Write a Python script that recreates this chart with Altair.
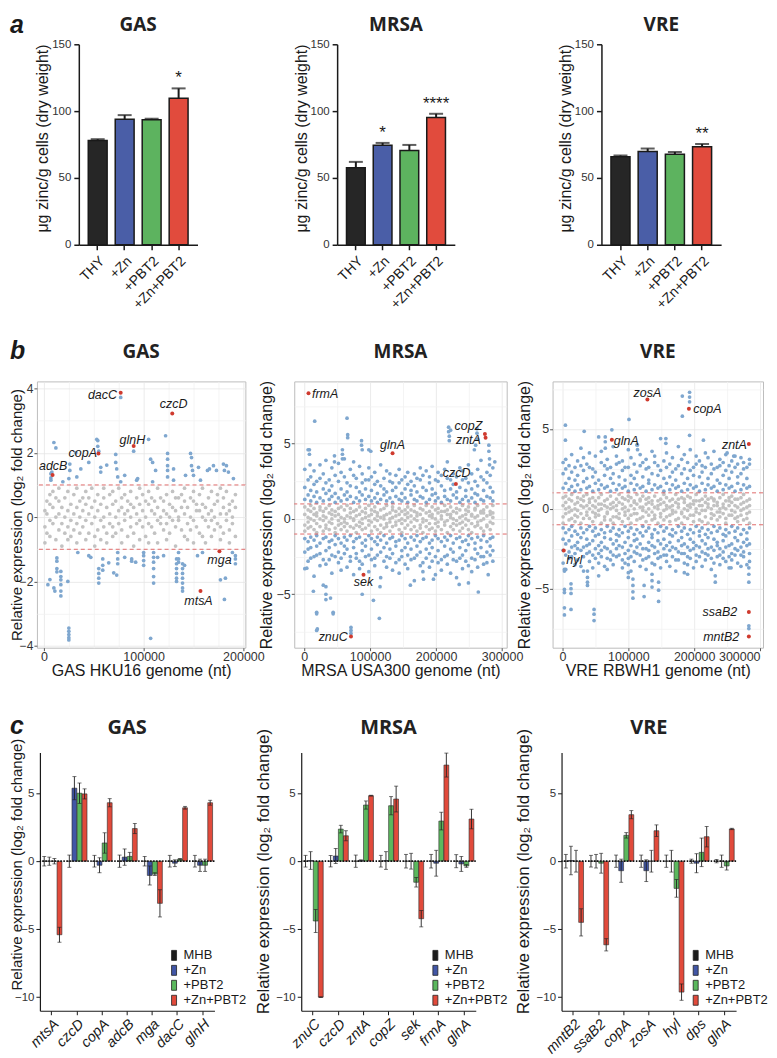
import altair as alt
import pandas as pd

FONT = "Liberation Sans"
HEAD = "Open Sans"
INK = "#1a1a1a"
GREY_PT = "#c2c2c2"
BLUE_PT = "#7fa7cf"
RED_PT = "#cf3a2e"
YT = "Relative expression (log\u2082 fold change)"

# ---------------- a: zinc content ----------------
A_COND = ["THY", "+Zn", "+PBT2", "+Zn+PBT2"]
A_FILL = ["#262626", "#4a5ea7", "#5db35f", "#e14b3d"]
A_GAS = [78, 94, 93.5, 109.7]
A_GAS_TOP = [79, 97, 94.3, 117]
A_GAS_SIG = ["", "", "", "*"]
A_MRSA = [57.6, 74.4, 70.5, 95.3]
A_MRSA_TOP = [62, 76.2, 74.7, 98]
A_MRSA_SIG = ["", "*", "", "****"]
A_VRE = [65.9, 69.7, 67.7, 73.4]
A_VRE_TOP = [66.8, 72, 69.4, 75.4]
A_VRE_SIG = ["", "", "", "**"]
A_YTICKS = [0, 50, 100, 150]

# ---------------- b: genome-wide expression (x in kb) ----------------
GAS_COLS = [1, 3, 6, 9, 12, 15, 18, 21, 24, 27, 30, 33, 36, 39, 42, 45, 48, 51, 54, 57, 60, 63, 66, 69, 72,
            75, 78, 81, 84, 87, 90, 93, 96, 99, 102, 105, 108, 111, 114, 117, 120, 123, 126, 129, 132, 135,
            138, 141, 144, 147, 150, 153, 156, 159, 162, 165, 168, 171, 174, 177, 180, 183, 186, 189, 192]
GAS_GRAY = [[0.2, -0.3, -0.8], [0.1, 0.5, -0.5], [-0.1, 0.4, 0.7, -0.6], [0.3, -0.2, 0.8], [0.0, -0.7, 0.6],
            [0.5, -0.4, 0.1, 0.9], [-0.2, 0.3, -0.9], [0.6, 0.0, -0.5], [0.2, -0.3, 0.8, -0.7], [-0.1, 0.4, -0.6],
            [0.7, 0.1, -0.4], [0.3, -0.2, -0.8, 0.9], [0.0, 0.5, -0.5], [-0.3, 0.2, 0.6], [0.4, -0.1, -0.7, 0.8],
            [0.1, -0.5, 0.6], [-0.2, 0.3, 0.9], [0.5, 0.0, -0.6, -0.9], [0.2, -0.4, 0.7], [-0.1, 0.4, -0.7],
            [0.6, 0.0, -0.3, 0.9], [0.3, -0.5, -0.8], [-0.2, 0.1, 0.7], [0.4, -0.3, 0.8, -0.6], [0.0, 0.5, -0.5],
            [0.2, -0.2, 0.9], [-0.4, 0.3, 0.6, -0.8], [0.1, -0.1, 0.7], [0.5, -0.6, 0.2], [-0.3, 0.4, 0.0, 0.8],
            [0.3, -0.5, -0.9], [0.6, 0.1, -0.2], [-0.1, 0.4, -0.7, 0.9], [0.2, -0.3, 0.7], [0.0, 0.5, -0.6],
            [0.4, -0.2, 0.8, -0.8], [-0.3, 0.2, 0.6], [0.1, -0.5, 0.5], [0.3, -0.1, -0.8, 0.9], [-0.2, 0.6, 0.0],
            [0.5, -0.4, 0.2], [0.1, -0.7, 0.7, -0.2], [0.4, 0.0, -0.5], [-0.1, 0.3, 0.8], [0.2, -0.3, -0.9, 0.6],
            [0.6, -0.1, 0.0], [-0.4, 0.3, 0.7], [0.1, -0.6, 0.5, 0.9], [0.3, -0.2, -0.7], [0.0, 0.6, -0.4],
            [0.5, -0.1, 0.8, -0.8], [-0.3, 0.2, 0.4], [0.2, -0.5, 0.7], [0.4, 0.0, -0.6, 0.9], [-0.1, 0.3, -0.8],
            [0.6, -0.3, 0.1], [0.2, -0.6, 0.8, -0.1], [0.0, 0.4, -0.4], [0.5, -0.2, 0.7], [-0.3, 0.1, -0.7, 0.9],
            [0.3, -0.5, 0.6], [0.1, -0.1, 0.8], [0.4, -0.4, -0.8, 0.2], [-0.2, 0.5, 0.0], [0.3, -0.6, 0.7]]
GAS_BLUE_X = [7, 7, 7, 8, 10, 12, 19, 25, 26, 26, 33, 37, 32, 45, 53, 54, 54, 55, 57, 57, 63, 72, 72, 73, 74, 77,
              77, 81, 90, 93, 94, 105, 107, 109, 112, 109, 122, 124, 124, 124, 124, 124, 130, 130, 142, 147, 148,
              148, 149, 150, 155, 157, 164, 166, 170, 173, 180, 181, 183, 185, 190,
              4, 6, 10, 11, 13, 13, 13, 13, 17, 17, 17, 17, 17, 17, 24, 25, 25, 25, 25, 25, 34, 45, 47, 55, 55, 55,
              55, 59, 59, 59, 65, 70, 73, 74, 74, 74, 81, 88, 88, 92, 100, 100, 100, 100, 107, 110, 110, 110, 110,
              110, 110, 114, 120, 133, 133, 133, 133, 133, 133, 135, 135, 135, 139, 139, 139, 139, 139, 139, 139,
              141, 154, 159, 177, 182, 181, 192, 192, 192, 189]
GAS_BLUE_Y = [1.15, 1.22, 1.35, 1.4, 2.32, 2.15, 1.1, 1.2, 1.45, 1.65, 1.25, 1.5, 2.0, 1.7, 2.42, 2.38, 2.2, 2.05,
              1.55, 1.4, 1.62, 1.95, 1.7, 1.5, 1.25, 1.1, 3.72, 1.3, 2.05, 1.15, 1.2, 2.42, 1.8, 1.7, 1.45, 1.1,
              2.53, 1.98, 1.8, 1.6, 1.45, 1.25, 1.5, 1.15, 1.3, 1.98, 1.85, 1.6, 1.45, 1.3, 1.55, 1.15, 1.45, 1.5,
              1.6, 1.45, 1.65, 1.45, 1.6, 1.4, 1.2,
              -2.1, -1.94, -2.2, -2.3, -1.27, -1.37, -1.6, -1.7, -1.69, -1.85, -1.95, -2.1, -2.3, -2.45, -2.0,
              -3.45, -3.55, -3.65, -3.75, -3.82, -1.1, -1.2, -1.25, -1.6, -1.75, -1.9, -2.05, -1.3, -1.5, -1.65,
              -1.42, -1.73, -1.8, -1.1, -1.3, -1.45, -1.25, -1.37, -1.3, -1.4, -1.1, -1.2, -1.35, -1.5, -3.77,
              -1.1, -1.25, -1.4, -1.6, -1.85, -2.05, -1.25, -1.2, -1.3, -1.45, -1.6, -1.75, -1.9, -2.0, -1.1, -1.3,
              -1.4, -1.45, -1.6, -1.75, -1.9, -2.05, -2.2, -2.3, -1.5, -1.2, -1.1, -1.95, -1.9, -2.56, -1.2, -1.3,
              -1.45, -1.1]
GAS_RED_NAME = ["dacC", "czcD", "glnH", "copA", "adcB", "mga", "mtsA"]
GAS_RED_X = [77, 128.7, 90, 54.7, 8.7, 176, 157]
GAS_RED_Y = [3.87, 3.22, 2.21, 1.98, 1.31, -1.06, -2.3]
GAS_LAB_X = [58.7, 130, 88.7, 39, 9.3, 176, 155]
GAS_LAB_Y = [3.81, 3.53, 2.40, 2.0, 1.58, -1.32, -2.6]

MRSA_COLS = [1, 6, 10, 15, 19, 24, 29, 33, 38, 42, 47, 52, 56, 61, 65, 70, 75, 79, 84, 88, 93, 98, 102, 107, 111,
             116, 121, 125, 130, 134, 139, 144, 148, 153, 157, 162, 167, 171, 176, 180, 185, 190, 194, 199, 203,
             208, 213, 217, 222, 226, 231, 236, 240, 245, 249, 254, 259, 263, 268, 272, 277, 282, 286]
MRSA_GRAY = [[0.3, -0.4, 0.8, -0.8], [0.1, -0.2, 0.6, -0.6], [0.5, -0.5, 0.0, 0.9], [-0.1, 0.3, -0.7, 0.7],
             [0.4, -0.3, 0.2, -0.9], [0.0, 0.6, -0.5, 0.8], [0.2, -0.1, -0.8, 0.5], [0.7, -0.4, 0.1, -0.6],
             [-0.2, 0.4, 0.9, -0.7], [0.3, 0.0, -0.3, 0.6], [0.5, -0.6, 0.2, -0.9], [-0.1, 0.7, -0.4, 0.3],
             [0.1, -0.3, 0.8, -0.7], [0.6, -0.2, 0.0, -0.5], [-0.3, 0.2, 0.9, -0.8], [0.4, -0.5, 0.1, 0.7],
             [0.0, -0.1, 0.5, -0.6], [0.2, 0.6, -0.4, -0.9], [-0.2, 0.3, 0.8, -0.5], [0.5, -0.3, 0.0, -0.7],
             [0.1, 0.7, -0.6, 0.4], [-0.4, 0.2, 0.9, -0.1], [0.3, -0.2, 0.6, -0.8], [0.0, 0.5, -0.5, 0.8],
             [-0.1, 0.4, -0.7, 0.2], [0.6, -0.4, 0.1, -0.9], [0.2, -0.6, 0.7, 0.0], [-0.3, 0.3, 0.9, -0.5],
             [0.4, 0.0, -0.2, -0.8], [0.1, -0.5, 0.6, 0.8], [-0.2, 0.5, -0.4, 0.2], [0.7, -0.1, 0.3, -0.7],
             [0.0, -0.3, 0.5, -0.9], [0.3, 0.6, -0.6, -0.1], [-0.4, 0.1, 0.8, 0.4], [0.2, -0.2, -0.7, 0.6],
             [0.5, 0.0, -0.5, 0.9], [-0.1, 0.4, -0.8, 0.2], [0.3, -0.4, 0.7, -0.6], [0.0, 0.6, -0.2, -0.9],
             [0.4, -0.1, 0.9, -0.5], [-0.3, 0.2, 0.5, -0.7], [0.1, -0.6, 0.8, 0.3], [0.6, -0.3, 0.0, -0.8],
             [-0.2, 0.4, -0.5, 0.7], [0.2, 0.0, -0.7, 0.5], [0.5, -0.2, 0.9, -0.4], [-0.1, 0.3, -0.9, 0.6],
             [0.3, -0.5, 0.1, 0.8], [0.0, 0.5, -0.3, -0.7], [0.4, -0.4, 0.7, -0.1], [-0.3, 0.1, 0.6, -0.8],
             [0.2, -0.2, 0.9, -0.6], [0.6, 0.0, -0.4, 0.3], [-0.1, 0.5, -0.7, 0.8], [0.3, -0.3, 0.2, -0.9],
             [0.1, 0.6, -0.5, 0.7], [-0.4, 0.2, 0.9, -0.2], [0.5, -0.1, -0.6, 0.4], [0.0, 0.4, -0.8, 0.6],
             [0.2, -0.4, 0.8, -0.5], [-0.2, 0.3, 0.5, -0.7], [0.4, -0.3, 0.1, 0.9]]
MRSA_UP = [[1.3, 2.1, 3.3], [1.6, 2.6, 4.6], [1.2, 1.9, 2.8], [1.5, 2.3, 3.2], [1.1, 1.8, 2.5], [1.4, 2.7, 3.6],
           [1.2, 2.0, 3.0], [1.7, 2.4, 3.9], [1.3, 1.9, 2.6], [1.5, 2.2, 3.4], [1.1, 1.7, 2.9], [1.4, 2.5, 3.7],
           [1.2, 2.0, 3.1], [1.6, 2.8, 4.0], [1.3, 1.8, 2.4], [1.5, 2.2, 3.3], [1.1, 2.9, 3.8], [1.4, 2.1, 2.7],
           [1.2, 1.8, 3.5], [1.6, 2.4, 3.0], [1.3, 2.0, 2.6], [1.5, 2.6, 3.4], [1.2, 1.9, 2.8], [1.4, 2.3, 3.1],
           [1.1, 1.7, 2.5], [1.3, 2.2, 3.6], [1.6, 2.0, 2.7], [1.2, 1.8, 3.2], [1.4, 2.5, 3.0], [1.1, 1.9, 2.4],
           [1.5, 2.1, 2.9], [1.3, 2.4, 3.3], [1.2, 1.7, 2.6], [1.4, 2.0, 2.8], [1.1, 2.3, 3.1], [1.6, 1.9, 2.5],
           [1.3, 2.2, 3.0], [1.2, 1.8, 2.7], [1.5, 2.6, 3.4], [1.4, 2.1, 2.9], [1.1, 1.9, 3.2], [1.3, 2.4, 2.8],
           [1.6, 2.0, 3.5], [1.2, 1.7, 2.6], [1.4, 2.5, 3.1], [1.1, 2.2, 2.9], [1.5, 1.9, 3.3], [1.3, 2.7, 3.8],
           [1.2, 2.0, 2.6], [1.6, 2.3, 3.0], [1.4, 1.8, 2.8], [1.1, 2.1, 3.4], [1.3, 2.6, 3.2], [1.5, 1.9, 2.7],
           [1.2, 2.4, 3.6], [1.4, 2.0, 3.0], [1.1, 1.7, 2.5], [1.6, 2.2, 3.3], [1.3, 2.8, 3.9], [1.2, 1.9, 2.6],
           [1.5, 2.4, 3.1], [1.4, 2.1, 2.9], [1.2, 1.8, 3.4]]
MRSA_DOWN = [[-1.3, -2.2, -3.3], [-1.5, -2.0, -2.8], [-1.2, -1.9, -2.6], [-1.4, -2.5, -3.8], [-1.1, -1.8, -2.4],
             [-1.6, -2.3, -3.1], [-1.3, -2.7, -4.4], [-1.2, -2.1, -3.0], [-1.5, -1.9, -2.7], [-1.4, -2.4, -3.6],
             [-1.1, -1.7, -2.5], [-1.3, -2.2, -2.9], [-1.6, -2.6, -3.4], [-1.2, -1.8, -2.3], [-1.4, -2.0, -3.2],
             [-1.1, -2.5, -2.8], [-1.5, -1.9, -3.7], [-1.3, -2.3, -2.6], [-1.2, -2.8, -3.3], [-1.6, -2.1, -3.0],
             [-1.4, -1.8, -2.5], [-1.1, -2.4, -3.5], [-1.3, -2.0, -2.7], [-1.5, -2.6, -3.1], [-1.2, -1.7, -2.4],
             [-1.4, -2.2, -3.9], [-1.1, -1.9, -2.8], [-1.6, -2.5, -3.2], [-1.3, -2.0, -2.6], [-1.2, -2.3, -3.4],
             [-1.5, -1.8, -2.9], [-1.4, -2.7, -3.6], [-1.1, -2.1, -2.5], [-1.3, -1.9, -3.0], [-1.6, -2.4, -3.3],
             [-1.2, -2.0, -2.7], [-1.4, -2.6, -4.1], [-1.1, -1.8, -2.4], [-1.5, -2.2, -3.1], [-1.3, -2.9, -3.5],
             [-1.2, -2.0, -2.6], [-1.6, -2.3, -3.2], [-1.4, -1.9, -2.8], [-1.1, -2.5, -3.7], [-1.3, -2.1, -2.9],
             [-1.5, -2.7, -3.4], [-1.2, -1.8, -2.5], [-1.4, -2.4, -3.0], [-1.1, -2.0, -3.6], [-1.6, -2.2, -2.7],
             [-1.3, -2.8, -3.9], [-1.2, -1.9, -2.6], [-1.5, -2.4, -3.3], [-1.4, -2.1, -2.8], [-1.1, -1.7, -3.1],
             [-1.3, -2.6, -3.5], [-1.6, -2.0, -2.7], [-1.2, -2.3, -3.2], [-1.4, -1.9, -2.5], [-1.1, -2.5, -3.0],
             [-1.5, -2.2, -2.9], [-1.3, -1.8, -2.4], [-1.2, -2.1, -2.8]]
MRSA_OUT_X = [16, 8, 8, 9, 65, 66, 66, 87, 87, 88, 98, 101, 58, 58, 58, 46, 46, 219, 219, 220, 220, 222, 262, 262,
              263, 260, 258, 280, 280, 281, 281, 289,
              4, 14, 19, 19, 20, 19, 33, 33, 33, 40, 44, 44, 71, 71, 71, 88, 105, 114, 115, 161, 181, 196, 235,
              249, 264, 279]
MRSA_OUT_Y = [6.5, 4.6, 4.3, 3.6, 6.7, 5.6, 5.4, 5.2, 4.9, 4.6, 4.6, 4.5, 4.6, 4.3, 4.0, 4.2, 3.8, 6.1, 5.8, 5.5,
              5.2, 5.9, 6.0, 5.7, 5.3, 4.9, 4.6, 4.9, 4.5, 4.0, 3.6, 3.8,
              -3.27, -4.8, -6.2, -6.3, -7.3, -7.4, -4.5, -5.0, -5.35, -5.25, -6.2, -6.3, -7.2, -7.4, -7.6, -5.0,
              -5.4, -6.6, -4.5, -4.4, -4.0, -4.0, -4.35, -4.25, -4.85, -3.7]
MRSA_RED_NAME = ["frmA", "glnA", "czcD", "copZ", "zntA", "sek", "znuC"]
MRSA_RED_X = [6.6, 134, 230, 274, 275, 90, 71]
MRSA_RED_Y = [8.36, 4.36, 2.32, 5.65, 5.4, -3.7, -7.8]
MRSA_LAB_X = [31.8, 134, 231, 249, 249, 90, 44]
MRSA_LAB_Y = [8.31, 4.89, 3.07, 6.2, 5.22, -4.19, -7.83]

VRE_COLS = [1, 5, 10, 14, 19, 23, 28, 32, 37, 41, 46, 50, 55, 59, 64, 68, 73, 77, 82, 86, 91, 95, 100, 104, 109,
            113, 118, 122, 127, 131, 136, 140, 145, 149, 154, 158, 163, 167, 172, 176, 181, 185, 190, 194, 199,
            203, 208, 212, 217, 221, 226, 230, 235, 239, 244, 248, 253, 257, 262, 266, 271, 275, 280, 284]
VRE_GRAY = [[0.2, -0.5, 0.7, -0.9], [0.0, 0.4, -0.3, 0.8], [-0.2, 0.6, -0.7, 0.1], [0.5, -0.1, 0.9, -0.6],
            [0.3, -0.4, 0.0, -0.8], [-0.1, 0.7, -0.5, 0.4], [0.6, -0.3, 0.2, -0.9], [0.1, 0.5, -0.6, 0.8],
            [-0.4, 0.2, 0.9, -0.2], [0.4, -0.6, 0.0, 0.6], [0.2, -0.2, -0.8, 0.7], [-0.3, 0.5, 0.1, -0.5],
            [0.7, -0.1, -0.4, 0.3], [0.0, 0.3, -0.9, 0.9], [0.5, -0.5, 0.2, -0.7], [-0.2, 0.6, -0.3, 0.1],
            [0.3, -0.7, 0.8, 0.0], [0.1, 0.4, -0.5, -0.9], [-0.5, 0.2, 0.6, -0.1], [0.4, -0.3, 0.9, -0.6],
            [0.0, 0.7, -0.8, 0.3], [0.6, -0.2, 0.1, -0.4], [-0.1, 0.5, -0.6, 0.8], [0.2, -0.4, 0.7, -0.9],
            [0.4, 0.0, -0.3, 0.5], [-0.3, 0.3, 0.9, -0.7], [0.5, -0.6, 0.1, 0.6], [0.1, -0.1, -0.5, 0.8],
            [-0.2, 0.6, 0.3, -0.8], [0.7, -0.4, 0.0, 0.4], [0.3, -0.7, 0.5, -0.2], [-0.4, 0.1, 0.8, -0.6],
            [0.2, 0.5, -0.9, 0.0], [0.6, -0.3, 0.3, -0.5], [-0.1, 0.4, -0.7, 0.9], [0.0, -0.5, 0.7, 0.2],
            [0.5, 0.1, -0.4, -0.8], [-0.3, 0.6, 0.2, -0.1], [0.4, -0.2, 0.9, -0.7], [0.1, 0.3, -0.6, 0.6],
            [-0.2, 0.7, -0.3, -0.9], [0.6, 0.0, 0.4, -0.5], [0.2, -0.6, 0.8, -0.1], [-0.4, 0.3, 0.1, 0.7],
            [0.3, -0.4, -0.8, 0.5], [0.0, 0.5, -0.2, 0.9], [0.5, -0.7, 0.2, -0.3], [-0.1, 0.2, 0.6, -0.8],
            [0.4, -0.1, -0.5, 0.8], [0.1, 0.6, -0.9, 0.3], [-0.3, 0.0, 0.7, -0.6], [0.6, -0.4, 0.2, 0.5],
            [0.2, 0.4, -0.7, -0.2], [-0.2, 0.7, 0.0, -0.5], [0.3, -0.3, 0.9, 0.1], [0.0, -0.6, 0.5, -0.9],
            [0.5, 0.2, -0.4, 0.7], [-0.4, 0.4, 0.8, -0.1], [0.2, -0.2, -0.6, 0.6], [0.6, -0.5, 0.1, -0.8],
            [-0.1, 0.3, 0.7, -0.4], [0.4, 0.0, -0.7, 0.9], [0.1, -0.3, 0.5, -0.6], [-0.2, 0.6, 0.2, -0.9]]
VRE_UP = [[1.3, 2.2, 2.9], [1.6, 2.5, 3.1], [1.2, 1.9, 2.7], [1.4, 2.3, 3.4], [1.1, 1.8, 2.6],
          [1.5, 2.1, 3.0], [1.2, 2.7, 3.8], [1.7, 2.4, 3.2], [1.3, 1.9, 2.8], [1.4, 2.6, 3.5],
          [1.1, 2.0, 2.5], [1.6, 2.3, 3.3], [1.2, 1.8, 4.5], [1.5, 2.9, 3.6], [1.3, 2.1, 2.7],
          [1.4, 2.5, 3.1], [1.1, 1.9, 2.6], [1.6, 2.2, 3.9], [1.2, 2.8, 3.3], [1.5, 2.0, 2.9],
          [1.3, 2.4, 3.0], [1.4, 1.8, 2.6], [1.1, 2.6, 3.7], [1.6, 2.1, 3.2], [1.2, 1.9, 2.8],
          [1.5, 2.3, 4.0], [1.3, 2.7, 3.4], [1.4, 2.0, 2.9], [1.1, 2.5, 3.1], [1.6, 1.8, 2.6],
          [1.2, 2.2, 3.6], [1.5, 2.9, 3.3], [1.3, 2.1, 2.7], [1.4, 2.4, 4.4], [1.1, 1.9, 3.0],
          [1.6, 2.6, 3.5], [1.2, 2.0, 2.8], [1.5, 2.3, 3.2], [1.3, 1.8, 2.5], [1.4, 2.7, 3.9],
          [1.1, 2.2, 3.1], [1.6, 2.5, 3.4], [1.2, 1.9, 2.9], [1.5, 2.4, 3.7], [1.3, 2.1, 2.6],
          [1.4, 2.8, 3.3], [1.1, 2.0, 3.0], [1.6, 2.3, 2.7], [1.2, 2.6, 3.5], [1.5, 1.9, 3.2],
          [1.3, 2.2, 2.8], [1.4, 2.5, 3.6], [1.1, 1.8, 2.6], [1.6, 2.7, 3.1], [1.2, 2.1, 2.9],
          [1.5, 2.4, 3.4], [1.3, 1.9, 2.7], [1.4, 2.3, 3.0], [1.1, 2.6, 3.3], [1.6, 2.0, 2.8],
          [1.2, 2.2, 3.2], [1.5, 2.5, 2.9], [1.3, 1.9, 2.6], [1.4, 2.8, 3.1]]
VRE_DOWN = [[-1.2, -1.9, -2.6, -3.4], [-1.5, -2.2, -2.9, -3.8], [-1.3, -2.0, -2.7, -3.1], [-1.1, -1.7, -2.4, -3.0],
            [-1.4, -2.3, -2.8, -3.5], [-1.6, -2.1, -2.5, -3.2], [-1.2, -1.8, -2.6, -3.6], [-1.5, -2.4, -3.0, -3.9],
            [-1.3, -1.9, -2.3, -2.8], [-1.1, -2.2, -2.7, -3.3], [-1.4, -2.0, -2.9, -3.7], [-1.2, -1.7, -2.5, -3.1],
            [-1.6, -2.3, -2.8, -3.4], [-1.3, -2.1, -2.6, -3.0], [-1.5, -1.8, -2.4, -3.6], [-1.1, -2.5, -3.1, -3.8],
            [-1.4, -1.9, -2.7, -3.2], [-1.2, -2.2, -2.9, -3.5], [-1.6, -2.0, -2.5, -3.0], [-1.3, -1.7, -2.3, -2.9],
            [-1.5, -2.4, -3.2, -3.7], [-1.1, -2.1, -2.8, -3.4], [-1.4, -1.8, -2.6, -3.1], [-1.2, -2.3, -3.0, -3.9],
            [-1.6, -2.0, -2.7, -3.3], [-1.3, -1.9, -2.4, -2.8], [-1.5, -2.2, -2.9, -3.6], [-1.1, -1.7, -2.5, -3.2],
            [-1.4, -2.5, -3.1, -3.8], [-1.2, -2.1, -2.6, -3.0], [-1.6, -1.8, -2.3, -3.4], [-1.3, -2.4, -2.8, -3.5],
            [-1.5, -2.0, -2.7, -3.1], [-1.1, -2.2, -3.0, -3.7], [-1.4, -1.9, -2.5, -2.9], [-1.2, -2.3, -2.9, -3.3],
            [-1.6, -2.1, -2.6, -3.6], [-1.3, -1.7, -2.4, -3.0], [-1.5, -2.5, -3.2, -3.9], [-1.1, -2.0, -2.7, -3.2],
            [-1.4, -1.8, -2.3, -2.8], [-1.2, -2.2, -2.8, -3.4], [-1.6, -2.4, -3.0, -3.5], [-1.3, -1.9, -2.6, -3.1],
            [-1.5, -2.1, -2.5, -3.7], [-1.1, -2.3, -2.9, -3.3], [-1.4, -1.7, -2.4, -3.0], [-1.2, -2.0, -2.7, -3.6],
            [-1.6, -2.2, -2.8, -3.2], [-1.3, -1.8, -2.5, -2.9], [-1.5, -2.4, -3.1, -3.8], [-1.1, -1.9, -2.6, -3.4],
            [-1.4, -2.1, -2.3, -3.0], [-1.2, -2.5, -2.9, -3.5], [-1.6, -2.0, -2.7, -3.1], [-1.3, -1.7, -2.4, -3.3],
            [-1.5, -2.3, -3.0, -3.7], [-1.1, -2.2, -2.8, -3.2], [-1.4, -1.8, -2.5, -2.9], [-1.2, -2.0, -2.6, -3.4],
            [-1.6, -2.4, -2.9, -3.6], [-1.3, -2.1, -2.7, -3.0], [-1.5, -1.9, -2.3, -3.5], [-1.2, -2.2, -2.8, -3.3]]
VRE_OUT_X = [4.5, 4.5, 33, 65, 65, 65, 75, 101, 114, 114, 157, 157, 182, 182, 193, 193, 193, 193, 214, 250, 260,
             3, 3, 3, 3, 3, 3, 13, 13, 13, 13, 38, 38, 38, 38, 48, 48, 48, 55, 100, 100, 100, 107, 107, 107, 107,
             124, 124, 136, 136, 136, 146, 146, 146, 185, 190, 232, 232, 256, 283, 283, 283, 283, 283]
VRE_OUT_Y = [5.24, 4.3, 4.85, 4.5, 4.2, 3.8, 4.95, 5.6, 4.0, 3.7, 4.4, 4.1, 7.06, 5.8, 7.3, 7.0, 6.7, 4.6, 4.3,
             3.5, 3.3,
             -3.8, -3.9, -5.05, -5.25, -6.2, -6.65, -4.7, -5.0, -5.3, -6.3, -3.9, -4.3, -4.6, -4.8, -6.3, -6.6,
             -7.0, -4.2, -3.5, -4.0, -4.3, -4.4, -4.8, -5.2, -5.6, -4.8, -5.5, -4.1, -4.5, -4.9, -4.6, -5.1,
             -5.8, -4.0, -4.1, -4.2, -4.6, -3.7, -3.7, -4.1, -4.6, -7.33, -7.5]
VRE_RED_NAME = ["zosA", "copA", "glnA", "zntA", "hyl", "ssaB2", "mntB2"]
VRE_RED_X = [129, 192, 75, 283, 2, 283, 283]
VRE_RED_Y = [6.85, 6.27, 4.33, 4.06, -2.61, -6.46, -8.0]
VRE_LAB_X = [129, 220, 97, 261, 18, 239, 241]
VRE_LAB_Y = [7.25, 6.27, 4.24, 3.99, -3.21, -6.46, -8.01]

# ---------------- c: qRT-PCR ----------------
C_COND = ["MHB", "+Zn", "+PBT2", "+Zn+PBT2"]
C_FILL = ["#1c1c1c", "#4156a6", "#5bb85d", "#e14a3b"]
GAS_GENES = ["mtsA", "czcD", "copA", "adcB", "mga", "dacC", "glnH"]
GAS_MEAN = [[0, 0, 0, 0, 0, 0, 0],
            [0, 5.37, -0.3, 0.3, -1.05, -0.15, -0.3],
            [0, 5.0, 1.34, 0.35, -0.95, 0.15, -0.3],
            [-5.41, 4.95, 4.3, 2.4, -3.1, 3.93, 4.3]]
GAS_ERR = [[0.35, 0.45, 0.43, 0.45, 0.35, 0.43, 0.43],
           [0.3, 0.85, 0.55, 0.6, 0.7, 0.25, 0.45],
           [0.2, 0.75, 0.75, 0.3, 0.1, 0.05, 0.45],
           [0.55, 0.37, 0.3, 0.37, 1.0, 0.1, 0.18]]
MRSA_GENES = ["znuC", "czcD", "zntA", "copZ", "sek", "frmA", "glnA"]
MRSA_MEAN = [[0, 0, 0, 0, 0, 0, 0],
             [0.05, 0.38, 0.05, 0.05, 0, -0.15, -0.2],
             [-4.4, 2.36, 4.13, 4.08, -1.55, 2.95, -0.35],
             [-10.0, 1.87, 4.82, 4.57, -4.23, 7.07, 3.1]]
MRSA_ERR = [[0.43, 0.42, 0.45, 0.43, 0.5, 0.5, 0.48],
            [0.65, 0.55, 0.05, 0.65, 0.58, 0.95, 0.55],
            [0.85, 0.28, 0.3, 0.67, 0.35, 0.65, 0.1],
            [0.02, 0.37, 0.03, 0.95, 0.6, 0.88, 0.72]]
VRE_GENES = ["mntB2", "ssaB2", "copA", "zosA", "hyl", "dps", "glnA"]
VRE_MEAN = [[0, 0, 0, 0, 0, 0, 0],
            [0.05, 0, -0.7, -0.7, 0, -0.15, 0],
            [0, -0.15, 1.9, 0, -2.0, 0.65, -0.35],
            [-4.5, -6.15, 3.42, 2.24, -9.63, 1.8, 2.37]]
VRE_ERR = [[0.5, 0.43, 0.45, 0.45, 0.45, 0.15, 0.12],
           [1.05, 0.5, 0.85, 0.8, 0.8, 0.7, 0.45],
           [0.8, 0.73, 0.2, 0.8, 0.65, 1.05, 0.3],
           [1.0, 0.45, 0.3, 0.43, 0.6, 0.75, 0.05]]


def head(text, w, y, size=19):
    # panel heading drawn as a text mark centred over the plot area
    return alt.Chart(pd.DataFrame({"t": [text]})).mark_text(
        font=HEAD, fontSize=size, fontWeight="bold", color="#222", align="center", baseline="alphabetic"
    ).encode(x=alt.value(w / 2), y=alt.value(y), text="t:N")


def spacer(w, top=0, bottom=10, letter=None, ly=0):
    # invisible box that fixes the row's extent; optional panel letter
    base = alt.Chart(pd.DataFrame({"k": [0]}))
    box = base.mark_rect(opacity=0).encode(x=alt.value(0), x2=alt.value(w), y=alt.value(top),
                                           y2=alt.value(bottom))
    layers = [box]
    if letter:
        layers.append(base.mark_text(text=letter, font=FONT, fontSize=25, fontWeight="bold", fontStyle="italic",
                                     align="left", baseline="alphabetic", color=INK)
                      .encode(x=alt.value(1), y=alt.value(ly)))
    return alt.layer(*layers).properties(width=w, height=10)


def zinc_panel(name, vals, tops, sig, width):
    df = pd.DataFrame({"cond": A_COND, "val": vals, "top": tops, "sig": sig, "fill": A_FILL})
    base = alt.Chart(df)
    x = alt.X("cond:N", sort=A_COND, scale=alt.Scale(paddingInner=0.3, paddingOuter=0.35),
              axis=alt.Axis(title=None, labelAngle=-45, labelAlign="right", labelBaseline="top",
                            labelFontSize=14, labelColor=INK, labelPadding=4, tickSize=5, tickColor=INK,
                            tickWidth=1.5, domainColor=INK, domainWidth=1.5, grid=False))
    ysc = alt.Scale(domain=[0, 150], nice=False)
    yax = alt.Axis(title="\u03bcg zinc/g cells (dry weight)", values=A_YTICKS, grid=False, domainColor=INK,
                   domainWidth=1.5, tickColor=INK, tickWidth=1.5, tickSize=5, labelFontSize=11.5,
                   labelColor="#333", labelPadding=3, titleFontSize=16, titleColor=INK, titleX=-28,
                   titleY=94, titleBaseline="bottom")
    bars = base.mark_bar(stroke=INK, strokeWidth=1.5).encode(
        x=x, y=alt.Y("val:Q", scale=ysc, axis=yax), fill=alt.Fill("fill:N", scale=None))
    err = base.mark_rule(color=INK, strokeWidth=2).encode(
        x=x, y=alt.Y("val:Q", scale=ysc, axis=yax), y2="top:Q")
    cap = base.mark_tick(color=INK, thickness=2, size=14).encode(
        x=x, y=alt.Y("top:Q", scale=ysc, axis=yax))
    star = base.mark_text(font=FONT, fontSize=17, dy=-5, baseline="alphabetic", color=INK).encode(
        x=x, y=alt.Y("top:Q", scale=ysc, axis=yax), text="sig:N")
    return alt.layer(bars, err, cap, star, head(name, width, -13.5)).properties(width=width, height=201)


def genome_panel(name, cols, gray, up, down, bx, by, rname, rx, ry, lx, ly,
                 xdom, xgrid, ydom, ygrid, ytest, xtitle, tx, tfs, ylfs, w, flush=False):
    gx, gy = [], []
    for c, ys in zip(cols, gray):
        for v in ys:
            gx.append(c * 1000)
            gy.append(v)
    px, py = [], []
    for c, ys in zip(cols, up):
        for v in ys:
            px.append(c * 1000)
            py.append(v)
    for c, ys in zip(cols, down):
        for v in ys:
            px.append(c * 1000)
            py.append(v)
    for a, b in zip(bx, by):
        px.append(a * 1000)
        py.append(b)
    gdf = pd.DataFrame({"x": gx, "y": gy})
    bdf = pd.DataFrame({"x": px, "y": py})
    rdf = pd.DataFrame({"x": [v * 1000 for v in rx], "y": ry})
    ldf = pd.DataFrame({"x": [v * 1000 for v in lx], "y": ly, "name": rname})
    xtest = "datum.value % 100000 === 0"
    xsc = alt.Scale(domain=xdom, nice=False, zero=False)
    ysc = alt.Scale(domain=ydom, nice=False, zero=False)
    xkw = {"labelFlush": 6} if flush else {}
    xax = alt.Axis(values=xgrid, format="d", labelExpr=f"{xtest} ? datum.label : ''", labelOverlap=False,
                   grid=True, gridColor={"condition": {"test": xtest, "value": "#e6e6e6"}, "value": "#f1f1f1"},
                   gridWidth=0.8, domain=False, tickSize=3,
                   tickColor={"condition": {"test": xtest, "value": "#555"}, "value": "transparent"},
                   labelFontSize=12.5, labelColor="#333", labelPadding=0, title=xtitle, titleFontSize=16,
                   titleColor=INK, titleY=15, titleBaseline="top", **xkw)
    yax = alt.Axis(values=ygrid, labelExpr=f"{ytest} ? datum.label : ''", labelOverlap=False, grid=True,
                   gridColor={"condition": {"test": ytest, "value": "#e6e6e6"}, "value": "#f1f1f1"},
                   gridWidth=0.8, domain=False, tickSize=3,
                   tickColor={"condition": {"test": ytest, "value": "#555"}, "value": "transparent"},
                   labelFontSize=ylfs, labelColor="#333", labelPadding=1, title=YT, titleFontSize=tfs,
                   titleColor=INK, titleX=tx, titleBaseline="bottom")
    X = alt.X("x:Q", scale=xsc, axis=xax)
    Y = alt.Y("y:Q", scale=ysc, axis=yax)
    grey = alt.Chart(gdf).mark_circle(size=14, opacity=1, color=GREY_PT).encode(x=X, y=Y)
    blue = alt.Chart(bdf).mark_circle(size=14, opacity=1, color=BLUE_PT).encode(x=X, y=Y)
    red = alt.Chart(rdf).mark_circle(size=16, opacity=1, color=RED_PT).encode(x=X, y=Y)
    cut = alt.Chart(pd.DataFrame({"y": [-1, 1]})).mark_rule(color="#e06a6a", strokeDash=[4, 3],
                                                            strokeWidth=1).encode(y=Y)
    lab = alt.Chart(ldf).mark_text(font=FONT, fontStyle="italic", fontSize=12.5, color=INK,
                                   align="center", baseline="middle").encode(x=X, y=Y, text="name:N")
    return alt.layer(grey, blue, cut, red, lab, head(name, w, -23)).properties(
        width=w, height=267, view=alt.ViewBackground(stroke="#bdbdbd", strokeWidth=1))


def expr_panel(name, genes, means, errs, tx, ty, tfs):
    rows = []
    for ci, cond in enumerate(C_COND):
        for gi, g in enumerate(genes):
            m = means[ci][gi]
            e = errs[ci][gi]
            rows.append({"gene": g, "cond": cond, "val": m, "lo": m - e, "hi": m + e})
    df = pd.DataFrame(rows)
    base = alt.Chart(df)
    x = alt.X("gene:N", sort=genes, scale=alt.Scale(paddingInner=0.2, paddingOuter=0.075),
              axis=alt.Axis(title=None, labelAngle=-45, labelAlign="right", labelBaseline="top",
                            labelFontSize=14.5, labelFontStyle="italic", labelColor=INK, labelPadding=2,
                            tickSize=4, tickColor=INK, domainColor=INK, domainWidth=1.2, grid=False))
    xo = alt.XOffset("cond:N", sort=C_COND, scale=alt.Scale(paddingInner=0.05))
    ysc = alt.Scale(domain=[-11, 8], nice=False)
    yax = alt.Axis(title=YT, values=[-10, -5, 0, 5], grid=False, domainColor=INK, domainWidth=1.2,
                   tickColor=INK, tickSize=4, labelFontSize=11.5, labelColor="#333", labelPadding=2,
                   titleFontSize=tfs, titleColor=INK, titleX=tx, titleY=ty, titleBaseline="bottom")
    col = alt.Color("cond:N", sort=C_COND, scale=alt.Scale(domain=C_COND, range=C_FILL),
                    legend=alt.Legend(orient="none", legendX=128, legendY=197, title=None,
                                      symbolType="M-0.5,-1H0.5V1H-0.5Z", symbolSize=100,
                                      symbolStrokeColor="#222", symbolStrokeWidth=0.8, symbolOpacity=1,
                                      labelFont=FONT, labelFontSize=13, labelColor=INK, labelOffset=3,
                                      rowPadding=0, padding=0))
    bars = base.mark_bar(stroke="#2a2a2a", strokeWidth=0.6).encode(
        x=x, xOffset=xo, y=alt.Y("val:Q", scale=ysc, axis=yax), color=col)
    zero = alt.Chart(pd.DataFrame({"z": [0]})).mark_rule(color="#111", strokeDash=[1.5, 1.5],
                                                         strokeWidth=1.8).encode(
        y=alt.Y("z:Q", scale=ysc, axis=yax))
    whisk = base.mark_rule(color="#222", strokeWidth=0.9).encode(
        x=x, xOffset=xo, y=alt.Y("lo:Q", scale=ysc, axis=yax), y2="hi:Q")
    cap1 = base.mark_tick(color="#222", thickness=0.9, size=4).encode(
        x=x, xOffset=xo, y=alt.Y("lo:Q", scale=ysc, axis=yax))
    cap2 = base.mark_tick(color="#222", thickness=0.9, size=4).encode(
        x=x, xOffset=xo, y=alt.Y("hi:Q", scale=ysc, axis=yax))
    return alt.layer(bars, zero, whisk, cap1, cap2, head(name, 175, -18, 20)).properties(width=175, height=259)


GRID_GAS_X = [0, 25000, 50000, 75000, 100000, 125000, 150000, 175000, 200000]
GRID_BIG_X = [0, 50000, 100000, 150000, 200000, 250000, 300000]
GRID_GAS_Y = [-4, -3, -2, -1, 0, 1, 2, 3, 4]
GRID_BIG_Y = [-7.5, -5, -2.5, 0, 2.5, 5, 7.5]

rowA = alt.hconcat(
    spacer(70, top=-34, bottom=290, letter="a", ly=-11),
    zinc_panel("GAS", A_GAS, A_GAS_TOP, A_GAS_SIG, 119),
    spacer(140),
    zinc_panel("MRSA", A_MRSA, A_MRSA_TOP, A_MRSA_SIG, 118),
    spacer(147),
    zinc_panel("VRE", A_VRE, A_VRE_TOP, A_VRE_SIG, 120),
    spacing=0, bounds="flush")

rowB = alt.hconcat(
    spacer(28, top=-46, bottom=322, letter="b", ly=-22),
    genome_panel("GAS", GAS_COLS, GAS_GRAY, [], [], GAS_BLUE_X, GAS_BLUE_Y, GAS_RED_NAME, GAS_RED_X, GAS_RED_Y,
                 GAS_LAB_X, GAS_LAB_Y, [-7000, 202000], GRID_GAS_X, [-4.06, 4.22], GRID_GAS_Y,
                 "datum.value % 2 === 0", "GAS HKU16 genome (nt)", -12, 15, 12, 209),
    spacer(49),
    genome_panel("MRSA", MRSA_COLS, MRSA_GRAY, MRSA_UP, MRSA_DOWN, MRSA_OUT_X, MRSA_OUT_Y, MRSA_RED_NAME,
                 MRSA_RED_X, MRSA_RED_Y, MRSA_LAB_X, MRSA_LAB_Y, [-15000, 307000], GRID_BIG_X, [-8.55, 9.14],
                 GRID_BIG_Y, "datum.value % 5 === 0", "MRSA USA300 genome (nt)", -20, 16, 12.5, 213),
    spacer(46),
    genome_panel("VRE", VRE_COLS, VRE_GRAY, VRE_UP, VRE_DOWN, VRE_OUT_X, VRE_OUT_Y, VRE_RED_NAME,
                 VRE_RED_X, VRE_RED_Y, VRE_LAB_X, VRE_LAB_Y, [-15000, 304500], GRID_BIG_X, [-8.7, 7.98],
                 GRID_BIG_Y, "datum.value % 5 === 0", "VRE RBWH1 genome (nt)", -20, 16, 12.5, 211, flush=True),
    spacing=0, bounds="flush")

rowC = alt.hconcat(
    spacer(31, top=-48, bottom=298, letter="c", ly=-18),
    expr_panel("GAS", GAS_GENES, GAS_MEAN, GAS_ERR, -15, 112, 15),
    spacer(87),
    expr_panel("MRSA", MRSA_GENES, MRSA_MEAN, MRSA_ERR, -29, 119, 17),
    spacer(86),
    expr_panel("VRE", VRE_GENES, VRE_MEAN, VRE_ERR, -29, 119, 17),
    spacing=0, bounds="flush").resolve_scale(color="independent")

chart = alt.vconcat(rowA, rowB, rowC, spacing=0).properties(
    padding=0, background="white"
).configure(font=FONT).configure_view(stroke="transparent").configure_axis(
    labelFont=FONT, titleFont=FONT, titleFontWeight="normal")

chart.save("out.html", embed_options={"renderer": "svg", "actions": False})
